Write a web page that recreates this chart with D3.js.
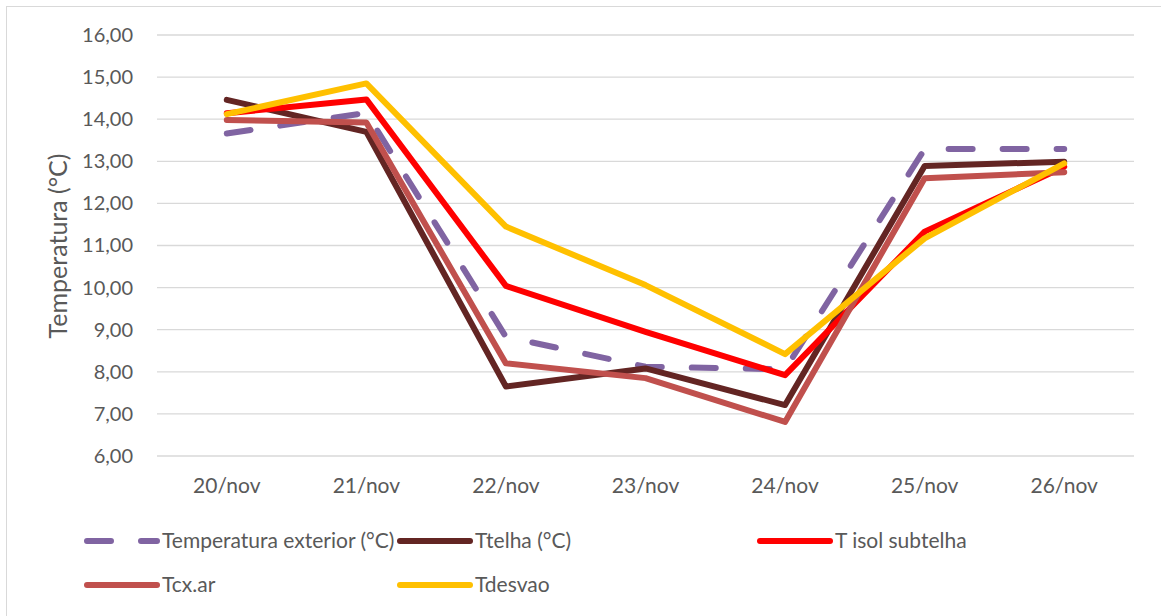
<!DOCTYPE html>
<html>
<head>
<meta charset="utf-8">
<script src="https://cdn.jsdelivr.net/npm/d3@7"></script>
<style>
    body { margin: 0; background: #fff; }
    text { font-family: Lato, "Open Sans", sans-serif; fill: #595959; }
</style>
</head>
<body>
<div class="container-chart"></div>
<script>
// data
var dias = ["20/nov", "21/nov", "22/nov", "23/nov", "24/nov", "25/nov", "26/nov"];
var tExterior = [13.66, 14.15, 8.83, 8.12, 8.06, 13.29, 13.29];
var tTelha = [14.46, 13.70, 7.65, 8.08, 7.21, 12.89, 12.99];
var tIsolSubtelha = [14.14, 14.47, 10.04, 8.95, 7.92, 11.33, 12.87];
var tCxAr = [13.98, 13.92, 8.20, 7.85, 6.81, 12.60, 12.74];
var tDesvao = [14.12, 14.85, 11.45, 10.06, 8.42, 11.17, 12.95];
var yTicks = [6, 7, 8, 9, 10, 11, 12, 13, 14, 15, 16];

var series = [
    {name: "Temperatura exterior (°C)", values: tExterior, color: "#8064a2", dash: "24,30"},
    {name: "Ttelha (°C)", values: tTelha, color: "#632523", dash: null},
    {name: "T isol subtelha", values: tIsolSubtelha, color: "#ff0000", dash: null},
    {name: "Tcx.ar", values: tCxAr, color: "#c0504d", dash: null},
    {name: "Tdesvao", values: tDesvao, color: "#ffc000", dash: null}
];

var w = 1161, h = 616;
var svg = d3.select(".container-chart").append("svg")
    .attr("width", w)
    .attr("height", h);

// chart border
svg.append("rect")
    .attr("x", 6.5).attr("y", 6.5)
    .attr("width", w + 20).attr("height", h + 20)
    .attr("fill", "none")
    .attr("stroke", "#d9d9d9");

var plotLeft = 157, plotRight = 1134, plotTop = 35, plotBottom = 456;

var xScale = d3.scaleBand()
    .domain(dias)
    .range([plotLeft, plotRight]);

var yScale = d3.scaleLinear()
    .domain([6, 16])
    .range([plotBottom, plotTop]);

// gridlines
svg.append("g")
    .selectAll("line")
    .data(yTicks)
    .enter()
    .append("line")
    .attr("x1", plotLeft).attr("x2", plotRight)
    .attr("y1", function (d) { return yScale(d); })
    .attr("y2", function (d) { return yScale(d); })
    .attr("stroke", "#d9d9d9")
    .attr("stroke-width", 1.3);

// y axis
var yAxis = d3.axisLeft(yScale)
    .tickValues(yTicks)
    .tickSize(0)
    .tickPadding(0)
    .tickFormat(function (d) { return d3.format(".2f")(d).replace(".", ","); });

var gy = svg.append("g").attr("transform", "translate(133,0)").call(yAxis);
gy.select(".domain").remove();
gy.selectAll("text").style("font-size", "20px").attr("fill", "#595959");

// x axis
var xAxis = d3.axisBottom(xScale).tickSize(0).tickPadding(0);
var gx = svg.append("g").attr("transform", "translate(0," + plotBottom + ")").call(xAxis);
gx.select(".domain").remove();
gx.selectAll("text").style("font-size", "21px").attr("fill", "#595959").attr("dy", "1.75em");

// y axis title
svg.append("text")
    .attr("transform", "translate(67," + 246 + ") rotate(-90)")
    .style("text-anchor", "middle")
    .style("font-size", "25px")
    .text("Temperatura (°C)");

// lines
var line = d3.line()
    .x(function (d, i) { return xScale(dias[i]) + xScale.bandwidth() / 2; })
    .y(function (d) { return yScale(d); });

svg.selectAll(".serie")
    .data(series)
    .enter()
    .append("path")
    .attr("class", "serie")
    .attr("d", function (d) { return line(d.values); })
    .attr("fill", "none")
    .attr("stroke", function (d) { return d.color; })
    .attr("stroke-width", 6)
    .attr("stroke-linejoin", "round")
    .attr("stroke-linecap", "round")
    .attr("stroke-dasharray", function (d) { return d.dash; });

// legend
var legendPos = [[87, 541], [400, 541], [760, 541], [87, 585], [400, 585]];
var legend = svg.selectAll(".legend")
    .data(series)
    .enter()
    .append("g")
    .attr("class", "legend")
    .attr("transform", function (d, i) { return "translate(" + legendPos[i][0] + "," + legendPos[i][1] + ")"; });

legend.append("line")
    .attr("x1", 0).attr("x2", 70)
    .attr("y1", 0).attr("y2", 0)
    .attr("stroke", function (d) { return d.color; })
    .attr("stroke-width", 6)
    .attr("stroke-linecap", "round")
    .attr("stroke-dasharray", function (d) { return d.dash; });

legend.append("text")
    .attr("x", 75)
    .attr("dy", "0.35em")
    .style("font-size", "21px")
    .text(function (d) { return d.name; });
</script>
</body>
</html>
